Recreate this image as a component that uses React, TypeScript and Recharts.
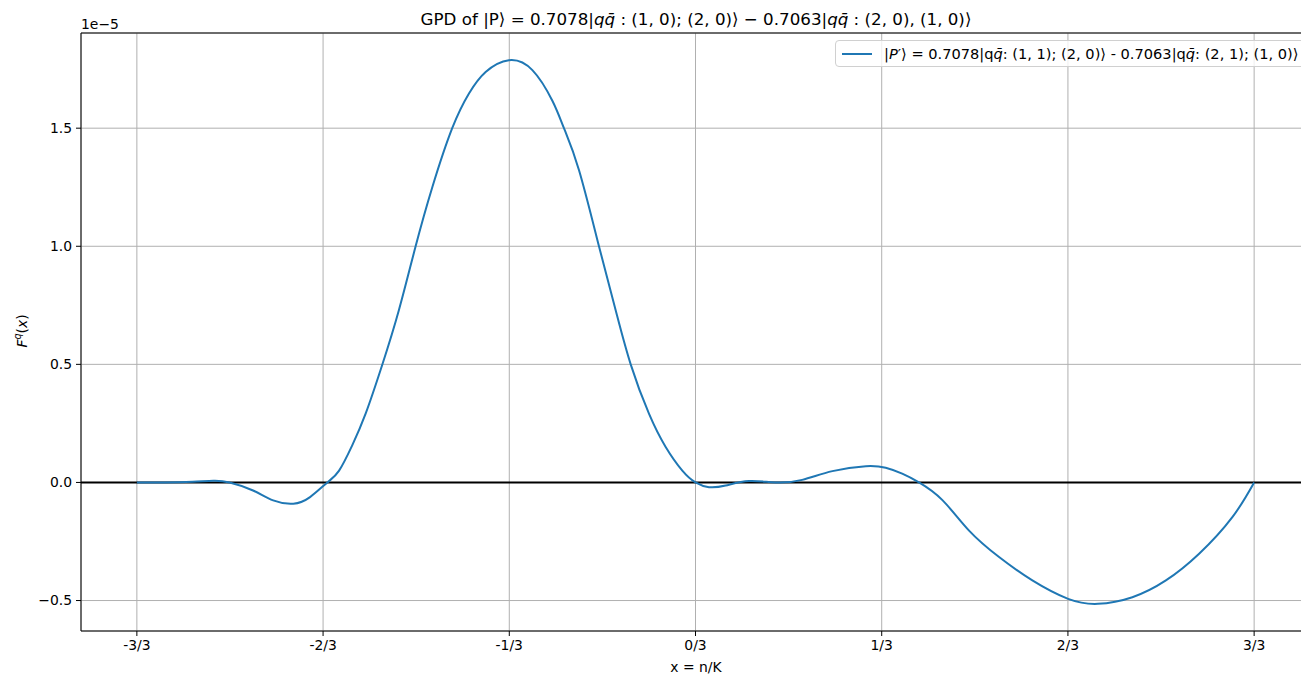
import React from "react";
import {
  LineChart,
  Line,
  XAxis,
  YAxis,
  CartesianGrid,
  ReferenceLine,
} from "recharts";

// x = n/K, F^q(x) in units of 1e-5
const xValues = [
  -1.0, -0.95, -0.9, -0.863, -0.834, -0.792, -0.756, -0.72, -0.69, -0.659,
  -0.638, -0.6145, -0.5905, -0.561, -0.531, -0.501, -0.471, -0.4355, -0.4055, -0.3757,
  -0.334, -0.292, -0.256, -0.2355, -0.2085, -0.1728, -0.1429, -0.116, -0.0833, -0.0534,
  -0.0236, 0.0, 0.0242, 0.054, 0.0958, 0.1436, 0.191, 0.245, 0.305, 0.3405,
  0.37, 0.4, 0.442, 0.4897, 0.5434, 0.603, 0.667, 0.7203, 0.782, 0.842,
  0.9015, 0.961, 1.0,
];
const fValues = [
  0.0, 0.0, 0.003, 0.007, 0.0, -0.034, -0.076, -0.09, -0.062, 0.0,
  0.05, 0.157, 0.291, 0.496, 0.729, 1.0, 1.251, 1.5, 1.647, 1.738,
  1.788, 1.746, 1.615, 1.5, 1.322, 1.0, 0.729, 0.5, 0.291, 0.15,
  0.05, 0.0, -0.02, -0.013, 0.006, 0.0, 0.011, 0.048, 0.069, 0.062,
  0.037, 0.0, -0.075, -0.204, -0.316, -0.415, -0.493, -0.514, -0.486, -0.415,
  -0.302, -0.147, 0.0,
];
const xTicks = [-1, -2 / 3, -1 / 3, 0, 1 / 3, 2 / 3, 1];
const xTickLabels = ["-3/3", "-2/3", "-1/3", "0/3", "1/3", "2/3", "3/3"];
const yTicks = [-0.5, 0, 0.5, 1.0, 1.5];

const data = xValues.map((x, i) => ({ x, f: fValues[i] }));

const FONT = "'DejaVu Sans', sans-serif";
const X_DOMAIN: [number, number] = [-1.1, 1.1];
const Y_DOMAIN: [number, number] = [-0.629, 1.903];

const fmtX = (v: number) => {
  const idx = xTicks.findIndex((t) => Math.abs(t - v) < 1e-6);
  return idx >= 0 ? xTickLabels[idx] : "";
};
const fmtY = (v: number) =>
  v < 0 ? "\u2212" + Math.abs(v).toFixed(1) : v.toFixed(1);

export default function App() {
  return (
    <div
      style={{
        position: "fixed",
        left: 0,
        top: 0,
        width: 1301,
        height: 678,
        overflow: "hidden",
        background: "#fff",
        fontFamily: FONT,
      }}
    >
      <LineChart
        width={1320}
        height={678}
        data={data}
        margin={{ top: 33, right: 10, bottom: 17, left: 21 }}
      >
        <CartesianGrid stroke="#b0b0b0" strokeWidth={1} />
        <XAxis
          dataKey="x"
          type="number"
          domain={X_DOMAIN}
          ticks={xTicks}
          tickFormatter={fmtX}
          allowDataOverflow
          height={30}
          tickSize={5}
          tickMargin={4}
          stroke="#000"
          tick={{ fill: "#000", fontSize: 13.9, fontFamily: FONT }}
          interval={0}
        />
        <YAxis
          type="number"
          domain={Y_DOMAIN}
          ticks={yTicks}
          tickFormatter={fmtY}
          allowDataOverflow
          width={60}
          tickSize={5}
          tickMargin={4}
          stroke="#000"
          tick={{ fill: "#000", fontSize: 13.9, fontFamily: FONT }}
          interval={0}
        />
        <ReferenceLine y={0} stroke="#000" strokeWidth={2} />
        <ReferenceLine y={Y_DOMAIN[1]} stroke="#000" strokeWidth={1} />
        <Line
          type="natural"
          dataKey="f"
          stroke="#1f77b4"
          strokeWidth={2}
          dot={false}
          isAnimationActive={false}
        />
      </LineChart>

      <svg
        width={1301}
        height={678}
        style={{ position: "absolute", left: 0, top: 0, pointerEvents: "none" }}
        fontFamily={FONT}
      >
        <text x={696} y={25} textAnchor="middle" fontSize={16.7} fill="#000">
          GPD of |P⟩ = 0.7078|
          <tspan fontStyle="italic">q</tspan>
          <tspan fontStyle="italic">q̄</tspan>
          {" : (1, 0); (2, 0)⟩ \u2212 0.7063|"}
          <tspan fontStyle="italic">q</tspan>
          <tspan fontStyle="italic">q̄</tspan>
          {" : (2, 0), (1, 0)⟩"}
        </text>
        <text x={81} y={29} fontSize={13.9} fill="#000">
          1e{"\u2212"}5
        </text>
        <text
          x={0}
          y={0}
          fontSize={13.9}
          fill="#000"
          textAnchor="middle"
          transform="translate(27 331) rotate(-90)"
        >
          <tspan fontStyle="italic">F</tspan>
          <tspan fontStyle="italic" fontSize={9.7} dy={-6}>
            q
          </tspan>
          <tspan dy={6}>(</tspan>
          <tspan fontStyle="italic">x</tspan>
          <tspan>)</tspan>
        </text>
        <text x={696} y={672} textAnchor="middle" fontSize={13.9} fill="#000">
          x = n/K
        </text>
      </svg>

      <div
        style={{
          position: "absolute",
          left: 835,
          top: 40,
          width: 480,
          height: 27,
          border: "1px solid #d0d0d0",
          borderRadius: 4,
          background: "rgba(255,255,255,0.8)",
          boxSizing: "border-box",
          display: "flex",
          alignItems: "center",
          fontSize: 14.6,
          color: "#000",
          whiteSpace: "nowrap",
        }}
      >
        <div
          style={{
            width: 30,
            height: 2,
            background: "#1f77b4",
            marginLeft: 6,
            marginRight: 12,
            flexShrink: 0,
          }}
        />
        <span>
          |<i>P</i>′⟩ = 0.7078|q<i>q̄</i>: (1, 1); (2, 0)⟩ - 0.7063|q<i>q̄</i>: (2, 1); (1, 0)⟩
        </span>
      </div>
    </div>
  );
}
